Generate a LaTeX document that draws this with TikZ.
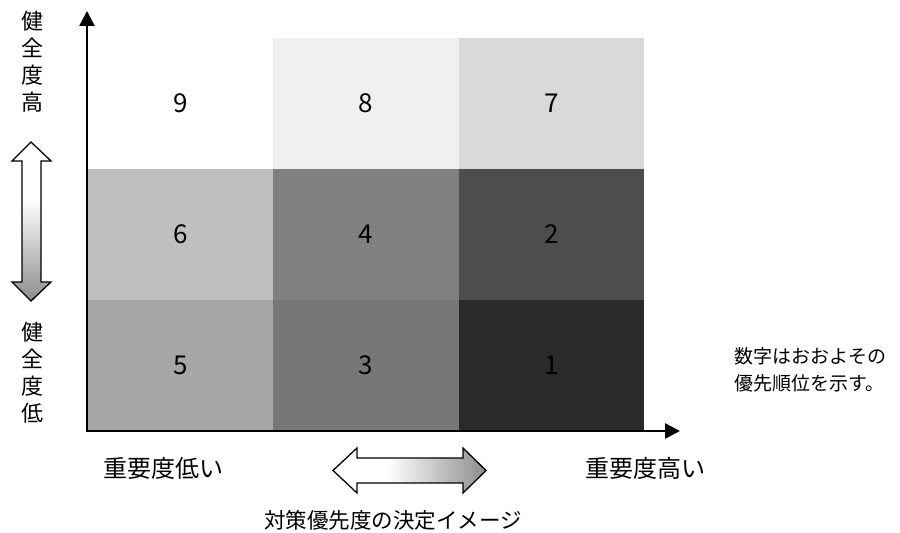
\documentclass[tikz,border=0pt]{standalone}
\usepackage{fontspec}
\usepackage{xcolor,tikz}
\usetikzlibrary{arrows.meta,positioning}
\newfontfamily\jpfont{Noto Sans CJK JP}
\definecolor{grayA}{HTML}{F0F0F0}
\definecolor{grayB}{HTML}{D9D9D9}
\definecolor{grayC}{HTML}{BFBFBF}
\definecolor{grayD}{HTML}{808080}
\definecolor{grayE}{HTML}{4D4D4D}
\definecolor{grayF}{HTML}{A6A6A6}
\definecolor{grayG}{HTML}{777777}
\definecolor{grayH}{HTML}{2A2A2A}
\pgfdeclarehorizontalshading{fadeh}{100bp}{color(0bp)=(white); color(25bp)=(white); color(43bp)=(white); color(75bp)=(black!45); color(100bp)=(black!45)}
\pgfdeclareverticalshading{fadev}{100bp}{color(0bp)=(black!45); color(25bp)=(black!45); color(57bp)=(white); color(100bp)=(white)}

\begin{document}
\begin{tikzpicture}[x=1pt,y=1pt,font=\jpfont,
  cell/.style={minimum width=185.3pt,minimum height=130.7pt,inner sep=0pt,outer sep=0pt,
    font=\jpfont\fontsize{26}{28}\selectfont},
  axis/.style={line width=2.6pt,{Triangle[length=15pt,width=15pt]}-{Triangle[length=15pt,width=15pt]}},
  fadearrow/.style={draw=black,line width=1.3pt,line join=miter},
  lbl/.style={inner sep=0pt,font=\jpfont\fontsize{24}{27}\selectfont},
  vlbl/.style={inner sep=0pt,align=center,font=\jpfont\fontsize{22}{27}\selectfont}]
\useasboundingbox (0,0) rectangle (900,533);
% cells
\node[cell,fill=white] (c9) at (180.7,429.3) {9};
\node[cell,fill=grayA,right=0pt of c9] (c8) {8};
\node[cell,fill=grayB,right=0pt of c8] (c7) {7};
\node[cell,fill=grayC,below=0pt of c9] (c6) {6};
\node[cell,fill=grayD,right=0pt of c6] (c4) {4};
\node[cell,fill=grayE,right=0pt of c4] (c2) {2};
\node[cell,fill=grayF,below=0pt of c6] (c5) {5};
\node[cell,fill=grayG,right=0pt of c5] (c3) {3};
\node[cell,fill=grayH,right=0pt of c3] (c1) {1};
% axes
\coordinate (o) at (87,102);
\coordinate (ytop) at (87,522);
\coordinate (xend) at (680,102);
\draw[axis] (ytop) -- (o) -- (xend);
% labels
\node[vlbl] (hi) at (32,471) {健\\全\\度\\高};
\node[vlbl] (lo) at (32,160) {健\\全\\度\\低};
\node[lbl] (imlo) at (163,65) {重要度低い};
\node[lbl] (imhi) at (645,65) {重要度高い};
\node[inner sep=0pt,font=\jpfont\fontsize{21.5}{26}\selectfont] (cap) at (393,13) {対策優先度の決定イメージ};
\node[inner sep=0pt,anchor=west,align=left,font=\jpfont\fontsize{19}{27}\selectfont] (note) at (734,163)
  {数字はおおよその\\優先順位を示す。};
% double arrows
\shade[fadearrow,shading=fadev] (31,391) -- (51,372) -- (41,372) -- (41,251) -- (51,251) -- (31,232)
  -- (12,251) -- (22,251) -- (22,372) -- (12,372) -- cycle;
\shade[fadearrow,shading=fadeh] (333,62.5) -- (357,85) -- (357,75) -- (463,75) -- (463,85) -- (486,62.5)
  -- (463,40) -- (463,50) -- (357,50) -- (357,40) -- cycle;
\end{tikzpicture}
\end{document}
